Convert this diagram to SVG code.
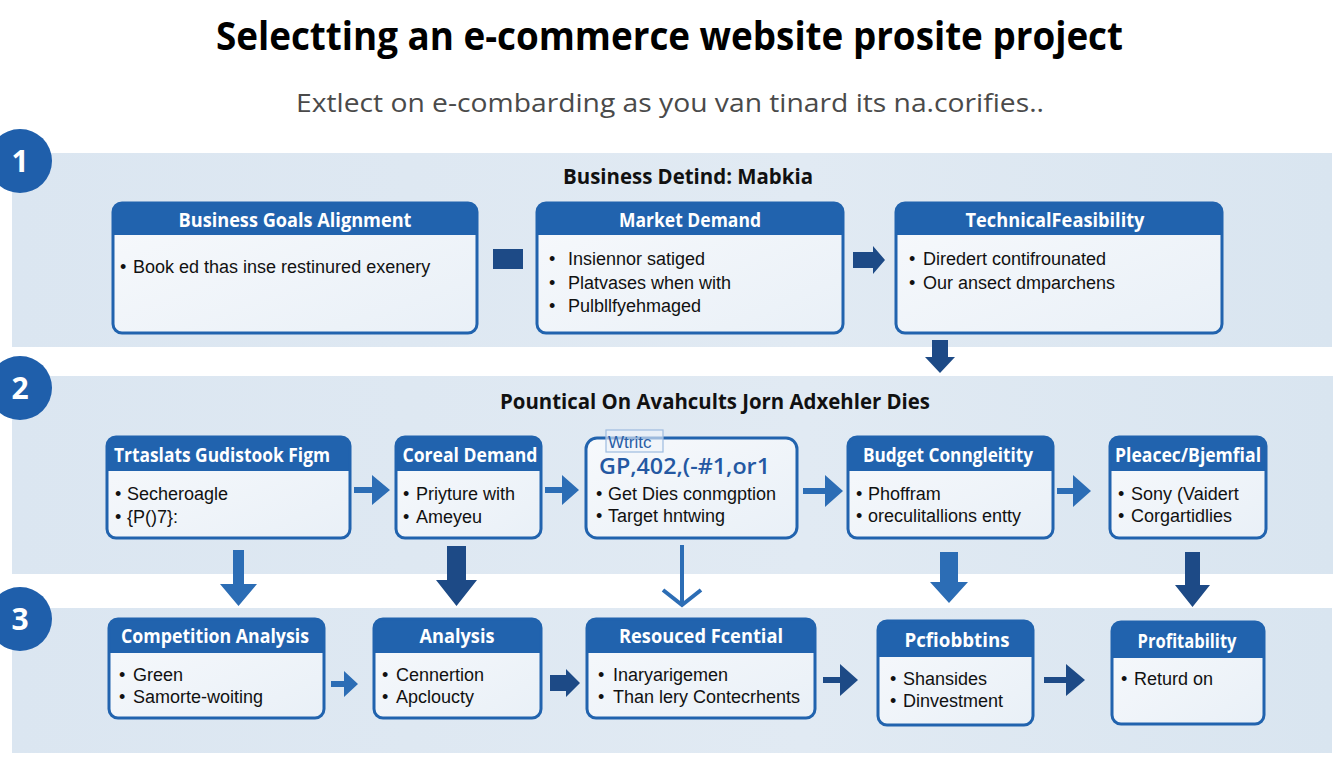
<svg xmlns="http://www.w3.org/2000/svg" width="1344" height="768" viewBox="0 0 1344 768">
<defs>
<linearGradient id="bodyG" x1="0" y1="0" x2="1" y2="1">
<stop offset="0" stop-color="#f7f9fc"/><stop offset="1" stop-color="#e9f0f7"/>
</linearGradient>
<linearGradient id="bandG" x1="0" y1="0" x2="1" y2="0">
<stop offset="0" stop-color="#dbe6f1"/><stop offset="0.6" stop-color="#e1eaf3"/><stop offset="1" stop-color="#d9e5f0"/>
</linearGradient>
</defs>
<style>
.band{fill:url(#bandG)}
.circ{fill:#1f5fab}
.num{font-family:"Open Sans","Liberation Sans",sans-serif;font-weight:700;font-size:30px;fill:#fff;text-anchor:middle}
.title{font-family:"Open Sans","Liberation Sans",sans-serif;font-weight:700;font-size:40px;fill:#000}
.sub{font-family:"Open Sans","Liberation Sans",sans-serif;font-size:26px;fill:#4a4a4a}
.bh{font-family:"Open Sans","Liberation Sans",sans-serif;font-weight:700;font-size:21px;fill:#111}
.nb{fill:url(#bodyG)}
.nh{fill:#2163ae}
.no{fill:none;stroke:#2163ae;stroke-width:3}
.ht{font-family:"Open Sans","Liberation Sans",sans-serif;font-weight:700;font-size:19px;fill:#fff;text-anchor:middle}
.tx{font-family:"Liberation Sans",Arial,sans-serif;font-size:18px;fill:#111}
.navy{fill:#1d4a86}
.mid{fill:#2c6db5}
.line{fill:none;stroke:#2c6db5;stroke-width:4}
</style>
<rect width="1344" height="768" fill="#ffffff"/>
<text class="title" x="216" y="50" textLength="907" lengthAdjust="spacingAndGlyphs">Selectting an e-commerce website prosite project</text>
<text class="sub" x="296" y="112" textLength="748" lengthAdjust="spacingAndGlyphs">Extlect on e-combarding as you van tinard its na.corifies..</text>

<g id="bands">
<rect class="band" x="12" y="153" width="1320" height="194"/>
<rect class="band" x="12" y="376" width="1321" height="198"/>
<rect class="band" x="12" y="608" width="1320" height="145"/>
</g>
<g id="step1"><circle class="circ" cx="20" cy="161" r="32"/><text class="num" x="20" y="172">1</text></g>
<g id="step2"><circle class="circ" cx="20" cy="388" r="32"/><text class="num" x="20" y="399">2</text></g>
<g id="step3"><circle class="circ" cx="20" cy="619" r="32"/><text class="num" x="20" y="630">3</text></g>
<text class="bh" x="563" y="184" textLength="250" lengthAdjust="spacingAndGlyphs">Business Detind: Mabkia</text>
<text class="bh" x="500" y="409" textLength="430" lengthAdjust="spacingAndGlyphs">Pountical On Avahcults Jorn Adxehler Dies</text>

<g id="connectors">
<rect class="navy" x="493" y="249" width="30" height="20"/>
<polygon class="navy" points="853,252 873,252 873,246 885,260 873,274 873,268 853,268"/>
<polygon class="navy" points="932,340 948,340 948,357 955,357 940,373 925,357 932,357"/>
<polygon class="mid" points="354,487 372,487 372,475 390,490 372,505 372,493 354,493"/>
<polygon class="mid" points="545,487 562,487 562,475 579,490 562,505 562,493 545,493"/>
<polygon class="mid" points="803,488 825,488 825,475 843,491 825,507 825,494 803,494"/>
<polygon class="mid" points="1057,488 1073,488 1073,475 1091,491 1073,507 1073,494 1057,494"/>
<polygon class="mid" points="233,550 244,550 244,584 257,584 238.5,606 220,584 233,584"/>
<polygon class="navy" points="447,546 466,546 466,580 477,580 456.5,606 436,580 447,580"/>
<line class="line" x1="682" y1="545" x2="682" y2="603"/>
<polyline class="line" points="663,590 682,605 701,590"/>
<polygon class="mid" points="940,552 958,552 958,582 968,582 949,603 930,582 940,582"/>
<polygon class="navy" points="1185,552 1200,552 1200,585 1210,585 1192.5,607 1175,585 1185,585"/>
<polygon class="mid" points="331,681 344,681 344,671 358,684 344,697 344,687 331,687"/>
<polygon class="navy" points="550,675 566,675 566,669 580,683 566,697 566,691 550,691"/>
<polygon class="navy" points="823,677 840,677 840,664 858,680 840,696 840,683 823,683"/>
<polygon class="navy" points="1044,677 1066,677 1066,664 1085,680 1066,696 1066,683 1044,683"/>
</g>

<g id="n1">
<rect class="nb" x="113" y="203" width="364" height="130" rx="9"/>
<path class="nh" d="M113,235 V212 Q113,203 122,203 H468 Q477,203 477,212 V235 Z"/>
<rect class="no" x="113" y="203" width="364" height="130" rx="9"/>
<text class="ht" x="295" y="227" textLength="233" lengthAdjust="spacingAndGlyphs">Business Goals Alignment</text>
<text class="tx" x="120" y="273">•</text><text class="tx" x="133" y="273">Book ed thas inse restinured exenery</text>
</g>
<g id="n2">
<rect class="nb" x="537" y="203" width="306" height="130" rx="9"/>
<path class="nh" d="M537,235 V212 Q537,203 546,203 H834 Q843,203 843,212 V235 Z"/>
<rect class="no" x="537" y="203" width="306" height="130" rx="9"/>
<text class="ht" x="690" y="227" textLength="142" lengthAdjust="spacingAndGlyphs">Market Demand</text>
<text class="tx" x="549" y="265">•</text><text class="tx" x="568" y="265">Insiennor satiged</text>
<text class="tx" x="549" y="289">•</text><text class="tx" x="568" y="289">Platvases when with</text>
<text class="tx" x="549" y="312">•</text><text class="tx" x="568" y="312">Pulbllfyehmaged</text>
</g>
<g id="n3">
<rect class="nb" x="896" y="203" width="326" height="130" rx="9"/>
<path class="nh" d="M896,235 V212 Q896,203 905,203 H1213 Q1222,203 1222,212 V235 Z"/>
<rect class="no" x="896" y="203" width="326" height="130" rx="9"/>
<text class="ht" x="1055" y="227" textLength="179" lengthAdjust="spacingAndGlyphs">TechnicalFeasibility</text>
<text class="tx" x="909" y="265">•</text><text class="tx" x="923" y="265">Diredert contifrounated</text>
<text class="tx" x="909" y="289">•</text><text class="tx" x="923" y="289">Our ansect dmparchens</text>
</g>

<g id="n4">
<rect class="nb" x="107" y="437" width="243" height="101" rx="9"/>
<path class="nh" d="M107,471 V446 Q107,437 116,437 H341 Q350,437 350,446 V471 Z"/>
<rect class="no" x="107" y="437" width="243" height="101" rx="9"/>
<text class="ht" x="222" y="462" textLength="216" lengthAdjust="spacingAndGlyphs">Trtaslats Gudistook Figm</text>
<text class="tx" x="115" y="500">•</text><text class="tx" x="127" y="500">Secheroagle</text>
<text class="tx" x="115" y="523">•</text><text class="tx" x="127" y="523">{P()7}:</text>
</g>
<g id="n5">
<rect class="nb" x="396" y="437" width="145" height="101" rx="9"/>
<path class="nh" d="M396,471 V446 Q396,437 405,437 H532 Q541,437 541,446 V471 Z"/>
<rect class="no" x="396" y="437" width="145" height="101" rx="9"/>
<text class="ht" x="470" y="462" textLength="135" lengthAdjust="spacingAndGlyphs">Coreal Demand</text>
<text class="tx" x="403" y="500">•</text><text class="tx" x="416" y="500">Priyture with</text>
<text class="tx" x="403" y="523">•</text><text class="tx" x="416" y="523">Ameyeu</text>
</g>
<g id="n6">
<rect class="nb" x="586" y="438" width="211" height="100" rx="11"/>
<rect class="no" x="586" y="438" width="211" height="100" rx="11"/>
<rect x="606" y="430" width="57" height="22" fill="#eef3fa" fill-opacity="0.6" stroke="#9dbbe0" stroke-width="1.2"/>
<text x="608" y="448" font-family="Liberation Sans, Arial, sans-serif" font-size="17" fill="#2a5ea6">Wtritc</text>
<text x="599" y="474" font-family="Open Sans, Liberation Sans, sans-serif" font-size="21" font-weight="600" fill="#2458a2" textLength="171" lengthAdjust="spacingAndGlyphs">GP,402,(-#1,or1</text>
<text class="tx" x="596" y="500">•</text><text class="tx" x="608" y="500">Get Dies conmgption</text>
<text class="tx" x="596" y="522">•</text><text class="tx" x="608" y="522">Target hntwing</text>
</g>
<g id="n7">
<rect class="nb" x="848" y="437" width="205" height="101" rx="9"/>
<path class="nh" d="M848,471 V446 Q848,437 857,437 H1044 Q1053,437 1053,446 V471 Z"/>
<rect class="no" x="848" y="437" width="205" height="101" rx="9"/>
<text class="ht" x="948" y="462" textLength="170" lengthAdjust="spacingAndGlyphs">Budget Conngleitity</text>
<text class="tx" x="856" y="500">•</text><text class="tx" x="868" y="500">Phoffram</text>
<text class="tx" x="856" y="522">•</text><text class="tx" x="868" y="522">oreculitallions entty</text>
</g>
<g id="n8">
<rect class="nb" x="1110" y="437" width="156" height="101" rx="9"/>
<path class="nh" d="M1110,471 V446 Q1110,437 1119,437 H1257 Q1266,437 1266,446 V471 Z"/>
<rect class="no" x="1110" y="437" width="156" height="101" rx="9"/>
<text class="ht" x="1188" y="462" textLength="146" lengthAdjust="spacingAndGlyphs">Pleacec/Bjemfial</text>
<text class="tx" x="1118" y="500">•</text><text class="tx" x="1131" y="500">Sony (Vaidert</text>
<text class="tx" x="1118" y="522">•</text><text class="tx" x="1131" y="522">Corgartidlies</text>
</g>

<g id="n9">
<rect class="nb" x="109" y="619" width="215" height="99" rx="9"/>
<path class="nh" d="M109,653 V628 Q109,619 118,619 H315 Q324,619 324,628 V653 Z"/>
<rect class="no" x="109" y="619" width="215" height="99" rx="9"/>
<text class="ht" x="215" y="643" textLength="188" lengthAdjust="spacingAndGlyphs">Competition Analysis</text>
<text class="tx" x="119" y="681">•</text><text class="tx" x="133" y="681">Green</text>
<text class="tx" x="119" y="703">•</text><text class="tx" x="133" y="703">Samorte-woiting</text>
</g>
<g id="n10">
<rect class="nb" x="374" y="619" width="167" height="99" rx="9"/>
<path class="nh" d="M374,653 V628 Q374,619 383,619 H532 Q541,619 541,628 V653 Z"/>
<rect class="no" x="374" y="619" width="167" height="99" rx="9"/>
<text class="ht" x="457" y="643" textLength="75" lengthAdjust="spacingAndGlyphs">Analysis</text>
<text class="tx" x="382" y="681">•</text><text class="tx" x="396" y="681">Cennertion</text>
<text class="tx" x="382" y="703">•</text><text class="tx" x="396" y="703">Apcloucty</text>
</g>
<g id="n11">
<rect class="nb" x="587" y="619" width="228" height="99" rx="9"/>
<path class="nh" d="M587,653 V628 Q587,619 596,619 H806 Q815,619 815,628 V653 Z"/>
<rect class="no" x="587" y="619" width="228" height="99" rx="9"/>
<text class="ht" x="701" y="643" textLength="164" lengthAdjust="spacingAndGlyphs">Resouced Fcential</text>
<text class="tx" x="598" y="681">•</text><text class="tx" x="613" y="681">Inaryarigemen</text>
<text class="tx" x="598" y="703">•</text><text class="tx" x="613" y="703">Than lery Contecrhents</text>
</g>
<g id="n12">
<rect class="nb" x="878" y="621" width="155" height="104" rx="9"/>
<path class="nh" d="M878,657 V630 Q878,621 887,621 H1024 Q1033,621 1033,630 V657 Z"/>
<rect class="no" x="878" y="621" width="155" height="104" rx="9"/>
<text class="ht" x="957" y="647" textLength="105" lengthAdjust="spacingAndGlyphs">Pcfiobbtins</text>
<text class="tx" x="890" y="685">•</text><text class="tx" x="903" y="685">Shansides</text>
<text class="tx" x="890" y="707">•</text><text class="tx" x="903" y="707">Dinvestment</text>
</g>
<g id="n13">
<rect class="nb" x="1112" y="622" width="152" height="102" rx="9"/>
<path class="nh" d="M1112,658 V631 Q1112,622 1121,622 H1255 Q1264,622 1264,631 V658 Z"/>
<rect class="no" x="1112" y="622" width="152" height="102" rx="9"/>
<text class="ht" x="1187" y="648" textLength="99" lengthAdjust="spacingAndGlyphs">Profitability</text>
<text class="tx" x="1121" y="685">•</text><text class="tx" x="1134" y="685">Returd on</text>
</g>
</svg>
